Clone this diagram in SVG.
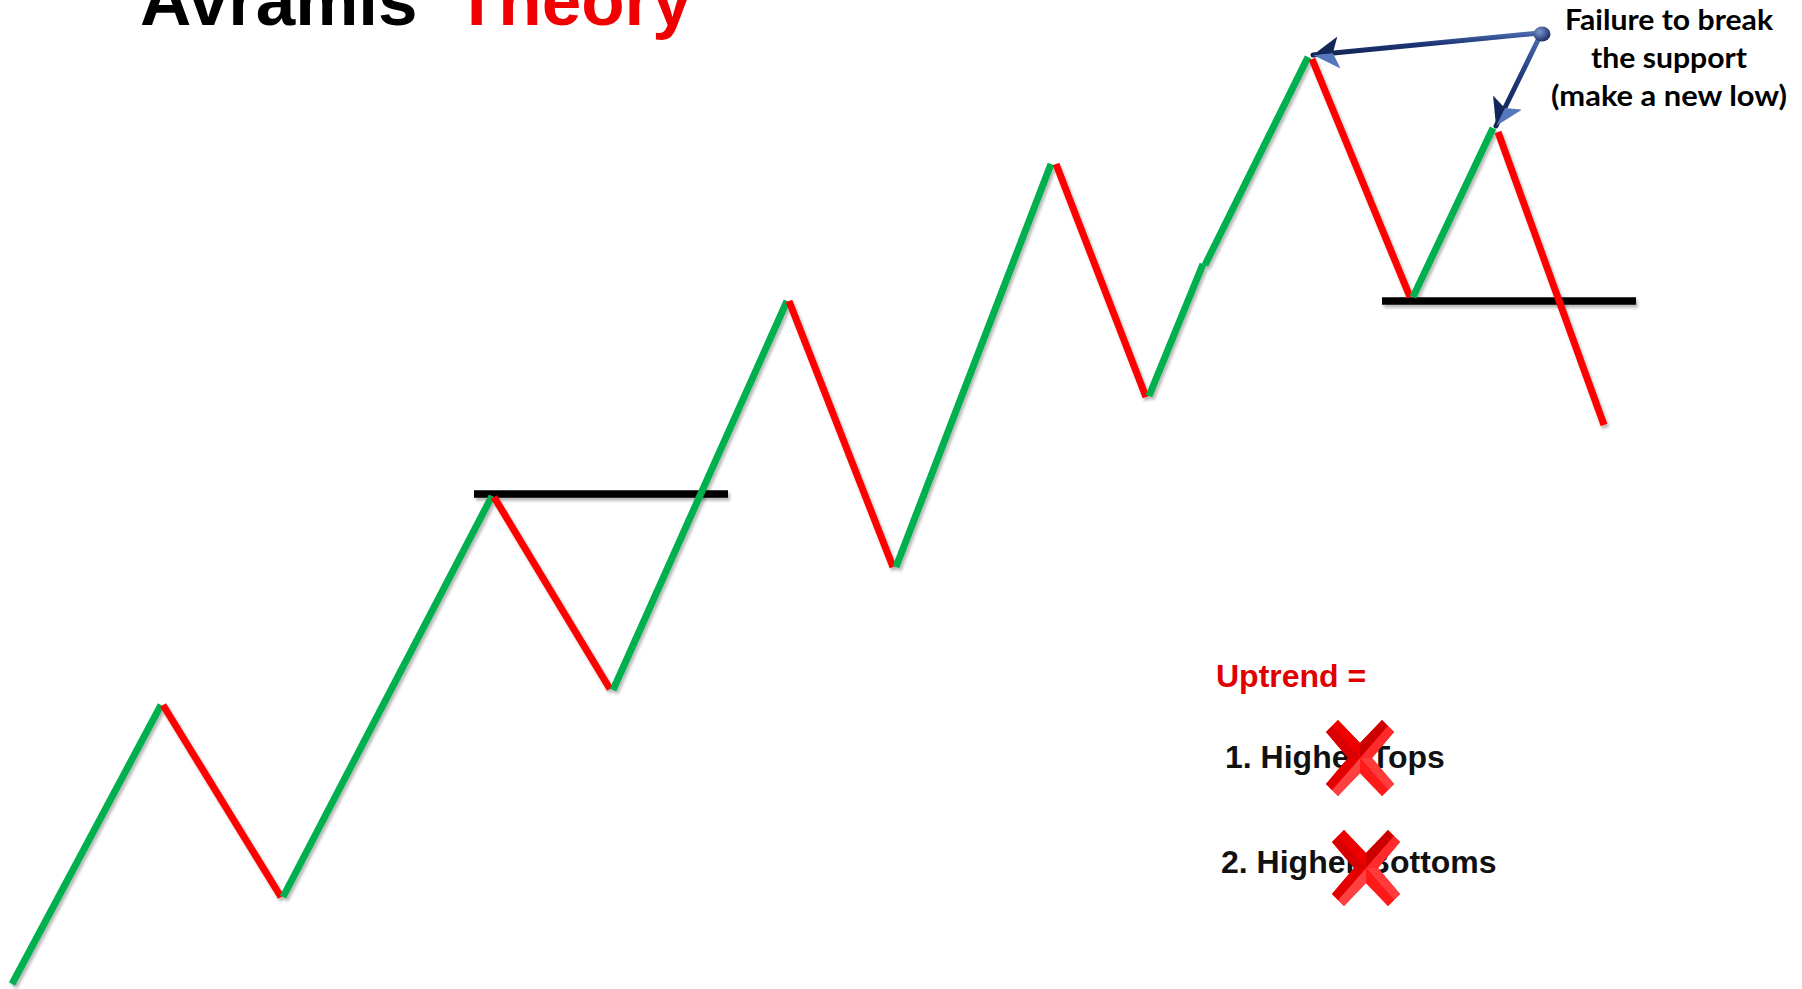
<svg xmlns="http://www.w3.org/2000/svg" width="1802" height="989" viewBox="0 0 1802 989">
  <style>
    .up { stroke: #00B050; stroke-width: 7; fill: none; stroke-linecap: butt; }
    .down { stroke: #FF0000; stroke-width: 7; fill: none; stroke-linecap: butt; }
    .lvl { stroke: #000000; stroke-width: 7.5; fill: none; }
    .title { font-family: "Liberation Sans", Arial, sans-serif; font-weight: bold; font-size: 71px; }
    .list { font-family: "Liberation Sans", Arial, sans-serif; font-weight: bold; font-size: 32px; fill: #111111; }
    .note { font-family: Lato, "Open Sans", sans-serif; font-weight: bold; font-size: 29px; fill: #000000; text-anchor: middle; }
    .arrow { stroke: url(#navy); stroke-width: 5; fill: none; stroke-linecap: round; }
  </style>
  <defs>
    <filter id="sh" x="-10%" y="-10%" width="120%" height="130%">
      <feDropShadow dx="2" dy="3" stdDeviation="1.5" flood-color="#000" flood-opacity="0.28"/>
    </filter>
    <linearGradient id="navy" x1="0" y1="0" x2="0" y2="1">
      <stop offset="0" stop-color="#4a6aae"/>
      <stop offset="0.5" stop-color="#1c3574"/>
      <stop offset="1" stop-color="#112352"/>
    </linearGradient>
    <radialGradient id="knob" cx="0.35" cy="0.35" r="0.7">
      <stop offset="0" stop-color="#7f9ad2"/>
      <stop offset="1" stop-color="#172c62"/>
    </radialGradient>
    <marker id="head" markerUnits="userSpaceOnUse" markerWidth="32" markerHeight="36" refX="26" refY="16" orient="auto">
      <path d="M26,16 L0,0 L6,16 Z" fill="#5577bb"/>
      <path d="M26,16 L6,16 L0,32 Z" fill="#142759"/>
    </marker>
    <g id="xmark">
      <polygon points="-34,-26 -22,-38 0,-15 22,-38 34,-26 12,0 34,26 22,38 0,15 -22,38 -34,26 -12,0" fill="#FF0000"/>
      <polygon points="-34,-26 -28,-32 0,0 -12,0" fill="#D80000"/>
      <polygon points="-22,-38 -28,-32 0,0 0,-15" fill="#EE0000"/>
      <polygon points="22,-38 28,-32 0,0 0,-15" fill="#CC0000"/>
      <polygon points="34,-26 28,-32 0,0 12,0" fill="#FF2a2a"/>
      <polygon points="34,26 28,32 0,0 12,0" fill="#FF3b3b"/>
      <polygon points="22,38 28,32 0,0 0,15" fill="#FF1a1a"/>
      <polygon points="-22,38 -28,32 0,0 0,15" fill="#FF4040"/>
      <polygon points="-34,26 -28,32 0,0 -12,0" fill="#E40000"/>
    </g>
  </defs>
  <rect width="1802" height="989" fill="#ffffff"/>

  <g id="title">
    <text class="title" x="140" y="25" fill="#000000">Avramis</text>
    <text class="title" x="455" y="25" fill="#F00000">Theory</text>
  </g>

  <g id="levels" filter="url(#sh)">
    <line class="lvl" x1="474" y1="494" x2="728" y2="494"/>
    <line class="lvl" x1="1382" y1="301" x2="1636" y2="301"/>
  </g>

  <g id="price" filter="url(#sh)">
    <line class="up" x1="12" y1="984" x2="161" y2="705"/>
    <line class="down" x1="163" y1="705" x2="281" y2="897"/>
    <line class="up" x1="283" y1="897" x2="492" y2="496"/>
    <line class="down" x1="494" y1="497" x2="610" y2="689"/>
    <line class="up" x1="613" y1="690" x2="787" y2="301"/>
    <line class="down" x1="789" y1="301" x2="893" y2="567"/>
    <line class="up" x1="896" y1="567" x2="1051" y2="164"/>
    <line class="down" x1="1056" y1="164" x2="1146" y2="397"/>
    <line class="up" x1="1149" y1="396" x2="1203" y2="264"/>
    <line class="up" x1="1205" y1="265" x2="1308" y2="57"/>
    <line class="down" x1="1312" y1="59" x2="1410" y2="297"/>
    <line class="up" x1="1413" y1="297" x2="1493" y2="128"/>
    <line class="down" x1="1498" y1="132" x2="1604" y2="425"/>
  </g>

  <g id="connectors">
    <line class="arrow" x1="1540" y1="33" x2="1313" y2="55" marker-end="url(#head)"/>
    <line class="arrow" x1="1539" y1="38" x2="1496" y2="126" marker-end="url(#head)"/>
    <ellipse cx="1542" cy="34" rx="8.5" ry="7.5" fill="url(#knob)"/>
  </g>

  <g id="note">
    <text class="note" x="1669" y="30" textLength="208" lengthAdjust="spacingAndGlyphs">Failure to break</text>
    <text class="note" x="1669" y="68" textLength="156" lengthAdjust="spacingAndGlyphs">the support</text>
    <text class="note" x="1669" y="106" textLength="236" lengthAdjust="spacingAndGlyphs">(make a new low)</text>
  </g>

  <g id="uptrend">
    <text class="list" x="1216" y="687" style="fill:#E00000">Uptrend =</text>
    <text class="list" x="1225" y="768">1. Higher Tops</text>
    <text class="list" x="1221" y="873">2. Higher Bottoms</text>
    <use href="#xmark" x="1360" y="758"/>
    <use href="#xmark" x="1366" y="868"/>
  </g>
</svg>
